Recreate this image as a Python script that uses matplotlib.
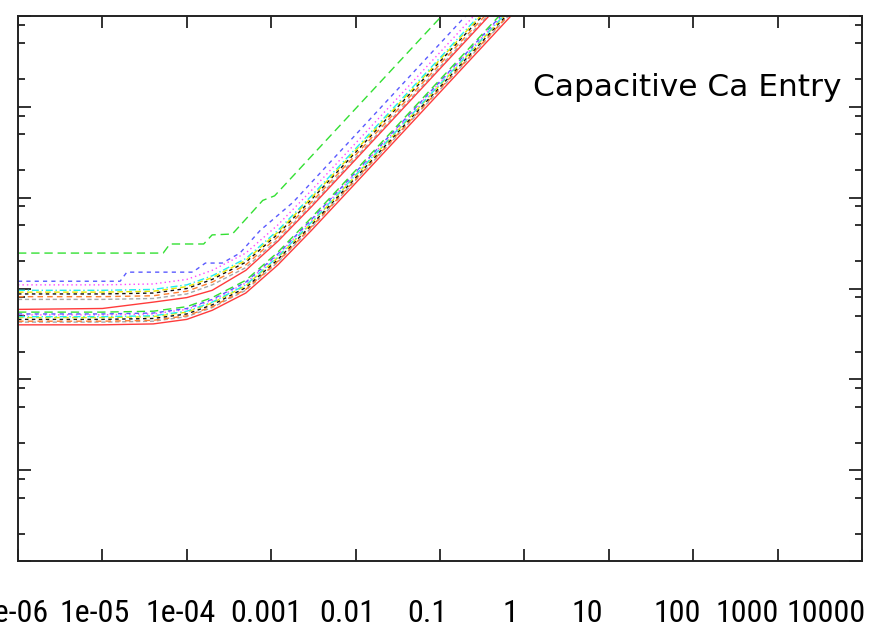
import numpy as np
import matplotlib
matplotlib.use('Agg')
import matplotlib.pyplot as plt
from matplotlib import font_manager
from matplotlib.ticker import FixedLocator, LogLocator, NullFormatter, NullLocator

# eje x (concentracion) comun para casi todas las curvas
conc = [1e-6, 1e-5, 4e-5, 1e-4, 2e-4, 5e-4, 1.2e-3, 3e-3, 1e-2, 1e-1, 1.0]

# curvas con su propia rejilla (log10 x, log10 y)
green_top_lx = [-6, -4.28, -4.2, -3.8, -3.7, -3.46, -3.1, -2.96, 0]
green_top_ly = [-0.61, -0.61, -0.51, -0.51, -0.41, -0.40, -0.03, 0.02, 2.98]
blue_top_lx = [-6, -4.79, -4.71, -3.93, -3.78, -3.58, -3.37, -3.13, -2.74, 0]
blue_top_ly = [-0.92, -0.92, -0.82, -0.82, -0.72, -0.72, -0.61, -0.36, -0.05, 2.70]

# log10 de la entrada de Ca, grupo de arriba
magenta_a = [-0.96, -0.96, -0.95, -0.90, -0.80, -0.61, -0.30, 0.08, 0.60, 1.60, 2.60]
cyan_a = [-1.02, -1.02, -1.01, -0.96, -0.86, -0.67, -0.36, 0.02, 0.54, 1.54, 2.54]
yellow_a = [-1.04, -1.04, -1.03, -0.98, -0.88, -0.69, -0.38, 0.00, 0.52, 1.52, 2.52]
black_a = [-1.06, -1.06, -1.05, -1.00, -0.90, -0.71, -0.40, -0.02, 0.50, 1.50, 2.50]
orange_a = [-1.09, -1.09, -1.08, -1.03, -0.93, -0.74, -0.43, -0.05, 0.47, 1.47, 2.47]
gray_a = [-1.12, -1.12, -1.11, -1.06, -0.96, -0.77, -0.46, -0.08, 0.44, 1.44, 2.44]
red_a = [-1.23, -1.22, -1.15, -1.10, -1.02, -0.80, -0.48, -0.10, 0.42, 1.42, 2.42]

# grupo de abajo
green_b = [-1.26, -1.26, -1.25, -1.20, -1.10, -0.91, -0.60, -0.22, 0.30, 1.30, 2.30]
blue_b = [-1.28, -1.28, -1.27, -1.22, -1.12, -0.93, -0.62, -0.24, 0.28, 1.28, 2.28]
magenta_b = [-1.29, -1.29, -1.28, -1.23, -1.13, -0.94, -0.63, -0.25, 0.27, 1.27, 2.27]
cyan_b = [-1.31, -1.31, -1.30, -1.25, -1.15, -0.96, -0.65, -0.27, 0.25, 1.25, 2.25]
yellow_b = [-1.32, -1.32, -1.31, -1.26, -1.16, -0.97, -0.66, -0.28, 0.24, 1.24, 2.24]
black_b = [-1.34, -1.34, -1.33, -1.28, -1.18, -0.99, -0.68, -0.30, 0.22, 1.22, 2.22]
orange_b = [-1.36, -1.36, -1.35, -1.30, -1.20, -1.01, -0.70, -0.32, 0.20, 1.20, 2.20]
gray_b = [-1.37, -1.37, -1.36, -1.31, -1.21, -1.02, -0.71, -0.33, 0.19, 1.19, 2.19]
red_b = [-1.40, -1.40, -1.39, -1.34, -1.24, -1.05, -0.74, -0.36, 0.16, 1.16, 2.16]

x_ticks = [1e-6, 1e-5, 1e-4, 1e-3, 1e-2, 1e-1, 1, 10, 100, 1000, 10000]
x_labels = ['1e-06', '1e-05', '1e-04', '0.001', '0.01', '0.1', '1', '10', '100', '1000', '10000']
# en la imagen las etiquetas quedan algo corridas a la izquierda de cada tick (log10 x)
label_lx = [-6.05, -5.09, -4.07, -3.06, -2.10, -1.15, -0.17, 0.74, 1.81, 2.64, 3.57]

# estilos tipo gnuplot
c_red, c_green, c_blue = '#ff3b3b', '#33e033', '#5a5aff'
c_mag, c_cyan, c_yel = '#ff44ff', '#22eeee', '#e8e800'
c_blk, c_org, c_gry = '#111111', '#ff8030', '#a8a8a8'
d_green = (6, 3.5)
d_blue = (3, 3)
d_mag = (1, 2.2)
d_cyan = (5, 2, 1, 2)
d_yel = (4, 2.5)
d_blk = (2.5, 2.5)
d_org = (4, 3)
d_gry = (3, 2)

# fuente estrecha para las etiquetas del eje x, si existe
fam_x, size_x = 'Liberation Sans', 19
for f in ['Liberation Sans Narrow', 'DejaVu Sans Condensed', 'Roboto Condensed']:
    try:
        font_manager.findfont(font_manager.FontProperties(family=f), fallback_to_default=False)
        fam_x, size_x = f, 23
        break
    except ValueError:
        pass

fig = plt.figure(figsize=(8.79, 6.39), dpi=100)
ax = fig.add_axes([18/879, 78/639, 844/879, 545/639])

grupo = [
    (gray_b, c_gry, d_gry), (orange_b, c_org, d_org), (black_b, c_blk, d_blk),
    (yellow_b, c_yel, d_yel), (cyan_b, c_cyan, d_cyan), (magenta_b, c_mag, d_mag),
    (blue_b, c_blue, d_blue), (green_b, c_green, d_green),
    (gray_a, c_gry, d_gry), (orange_a, c_org, d_org), (black_a, c_blk, d_blk),
    (yellow_a, c_yel, d_yel), (cyan_a, c_cyan, d_cyan), (magenta_a, c_mag, d_mag),
]
for ly, col, dsh in grupo:
    ax.plot(conc, 10.0 ** np.array(ly), color=col, lw=1.0, dashes=dsh)

ax.plot(10.0 ** np.array(blue_top_lx), 10.0 ** np.array(blue_top_ly), color=c_blue, lw=1.0, dashes=d_blue)
ax.plot(10.0 ** np.array(green_top_lx), 10.0 ** np.array(green_top_ly), color=c_green, lw=1.0, dashes=d_green)
ax.plot(conc, 10.0 ** np.array(red_a), color=c_red, lw=1.0)
ax.plot(conc, 10.0 ** np.array(red_b), color=c_red, lw=1.0)

ax.set_xscale('log')
ax.set_yscale('log')
ax.set_xlim(1e-6, 1e4)
ax.set_ylim(1e-4, 1e2)

ax.xaxis.set_major_locator(FixedLocator(x_ticks))
ax.xaxis.set_minor_locator(NullLocator())
ax.xaxis.set_major_formatter(NullFormatter())
ax.yaxis.set_major_locator(LogLocator(base=10))
ax.yaxis.set_minor_locator(LogLocator(base=10, subs=[2, 5, 8]))
ax.yaxis.set_major_formatter(NullFormatter())
ax.yaxis.set_minor_formatter(NullFormatter())

# etiquetas del eje x
for lx, lab in zip(label_lx, x_labels):
    ax.text(10.0 ** lx, -0.097, lab, transform=ax.get_xaxis_transform(), ha='center', va='center',
            family=fam_x, fontsize=size_x, clip_on=False)

ax.tick_params(which='both', direction='in', top=True, right=True, color='#222222', width=1.3)
ax.tick_params(axis='x', which='major', length=8.6)
ax.tick_params(axis='y', which='major', length=9.4)
ax.tick_params(axis='y', which='minor', length=5)
for s in ax.spines.values():
    s.set_linewidth(1.4)
    s.set_color('#222222')

fig.text(842/879, 1 - 87/639, 'Capacitive Ca Entry', ha='right', va='center',
         fontsize=22.5, family='DejaVu Sans')

fig.savefig('out.png', dpi=100)
